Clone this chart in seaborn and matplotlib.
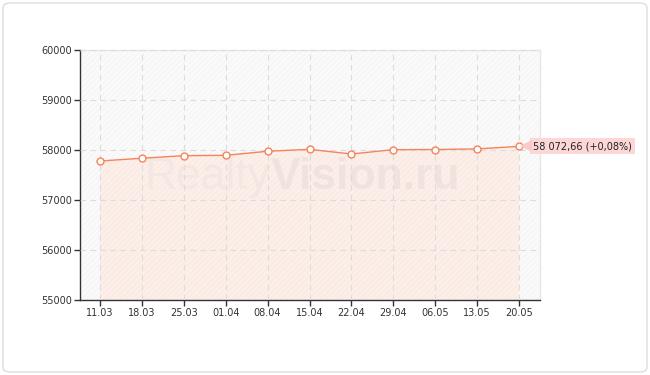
import matplotlib
matplotlib.use("Agg")
import matplotlib.pyplot as plt
from matplotlib.patches import FancyBboxPatch
import matplotlib.transforms as mtransforms
import seaborn as sns
import pandas as pd

dates = ["11.03", "18.03", "25.03", "01.04", "08.04", "15.04", "22.04", "29.04", "06.05", "13.05", "20.05"]
prices = [57780, 57835, 57887, 57893, 57975, 58013, 57920, 58007, 58010, 58022, 58072.66]
y_ticks = [55000, 56000, 57000, 58000, 59000, 60000]
last_label = "58 072,66 (+0,08%)"

df = pd.DataFrame({"date": dates, "price": prices, "idx": range(len(dates))})

sns.set_style("white")
plt.rcParams["font.family"] = ["DejaVu Sans"]
plt.rcParams["hatch.color"] = "white"
plt.rcParams["hatch.linewidth"] = 0.6

fig = plt.figure(figsize=(6.5, 3.75), dpi=100)
fig.patch.set_facecolor("white")
border = FancyBboxPatch((3 / 650, 3 / 375), 644 / 650, 369 / 375,
                        boxstyle="round,pad=0,rounding_size=0.012",
                        transform=fig.transFigure, facecolor="white",
                        edgecolor="#dddddd", linewidth=1.0, zorder=-10)
fig.add_artist(border)

ax = fig.add_axes([80 / 650, 75 / 375, 460 / 650, 250 / 375])
ax.set_zorder(1)
ax.set_facecolor("#f7f7f7")
ax.set_xlim(-0.477, 10.5)
ax.set_ylim(55000, 60000)

# hatched background
ax.fill_between([-0.477, 10.5], 55000, 60000, facecolor="#f7f7f7",
                hatch="//////", edgecolor="white", linewidth=0, zorder=0)
# fill under line
ax.fill_between(df["idx"], 55000, df["price"], facecolor="#fbebe5",
                hatch="//////", edgecolor="#fdf4f1", linewidth=0, zorder=1)

ax.grid(True, color="#dcdcdc", linestyle=(0, (5, 4)), linewidth=0.8, zorder=3)
ax.set_axisbelow(False)

ax.text(4.07, 57450, "Realty", ha="right", va="center", fontsize=32,
        family="Liberation Sans", color="#f3e7e3", zorder=2)
ax.text(4.07, 57450, "Vision.ru", ha="left", va="center", fontsize=32,
        family="Liberation Sans", color="#f0e3df", fontweight="bold", zorder=2)

sns.lineplot(data=df, x="idx", y="price", ax=ax, color="#f4845c", linewidth=1.0,
             marker="o", markersize=5, markerfacecolor="white",
             markeredgecolor="#f4845c", markeredgewidth=1.0, zorder=5)

# value label with a small pointer
ax.annotate(last_label, xy=(10, prices[-1]), xytext=(10, 0),
            textcoords="offset points",
            ha="left", va="center", fontsize=7, color="#222222",
            bbox=dict(boxstyle="square,pad=0.3", facecolor="#fdd6d6",
                      edgecolor="none", linewidth=0),
            annotation_clip=False, zorder=6)
tri_tr = mtransforms.offset_copy(ax.transData, fig=fig, x=5.0, y=0, units="points")
ax.plot([10], [prices[-1]], marker="<", markersize=8, color="#fcc9c9",
        markeredgewidth=0, linestyle="none", transform=tri_tr, clip_on=False,
        zorder=8)

ax.set_xticks(df["idx"])
ax.set_xticklabels(dates)
ax.set_yticks(y_ticks)
ax.set_yticklabels([str(v) for v in y_ticks])
ax.set_xlabel("")
ax.set_ylabel("")
ax.tick_params(axis="both", which="both", direction="out", length=4, width=1,
               color="#333333", labelsize=7, labelcolor="#333333", pad=2,
               left=True, bottom=True)
for side in ["left", "bottom"]:
    ax.spines[side].set_color("#333333")
    ax.spines[side].set_linewidth(1.0)
for side in ["top", "right"]:
    ax.spines[side].set_color("#e6e6e6")
    ax.spines[side].set_linewidth(1.0)

fig.savefig("out.png", dpi=100, facecolor="white")
